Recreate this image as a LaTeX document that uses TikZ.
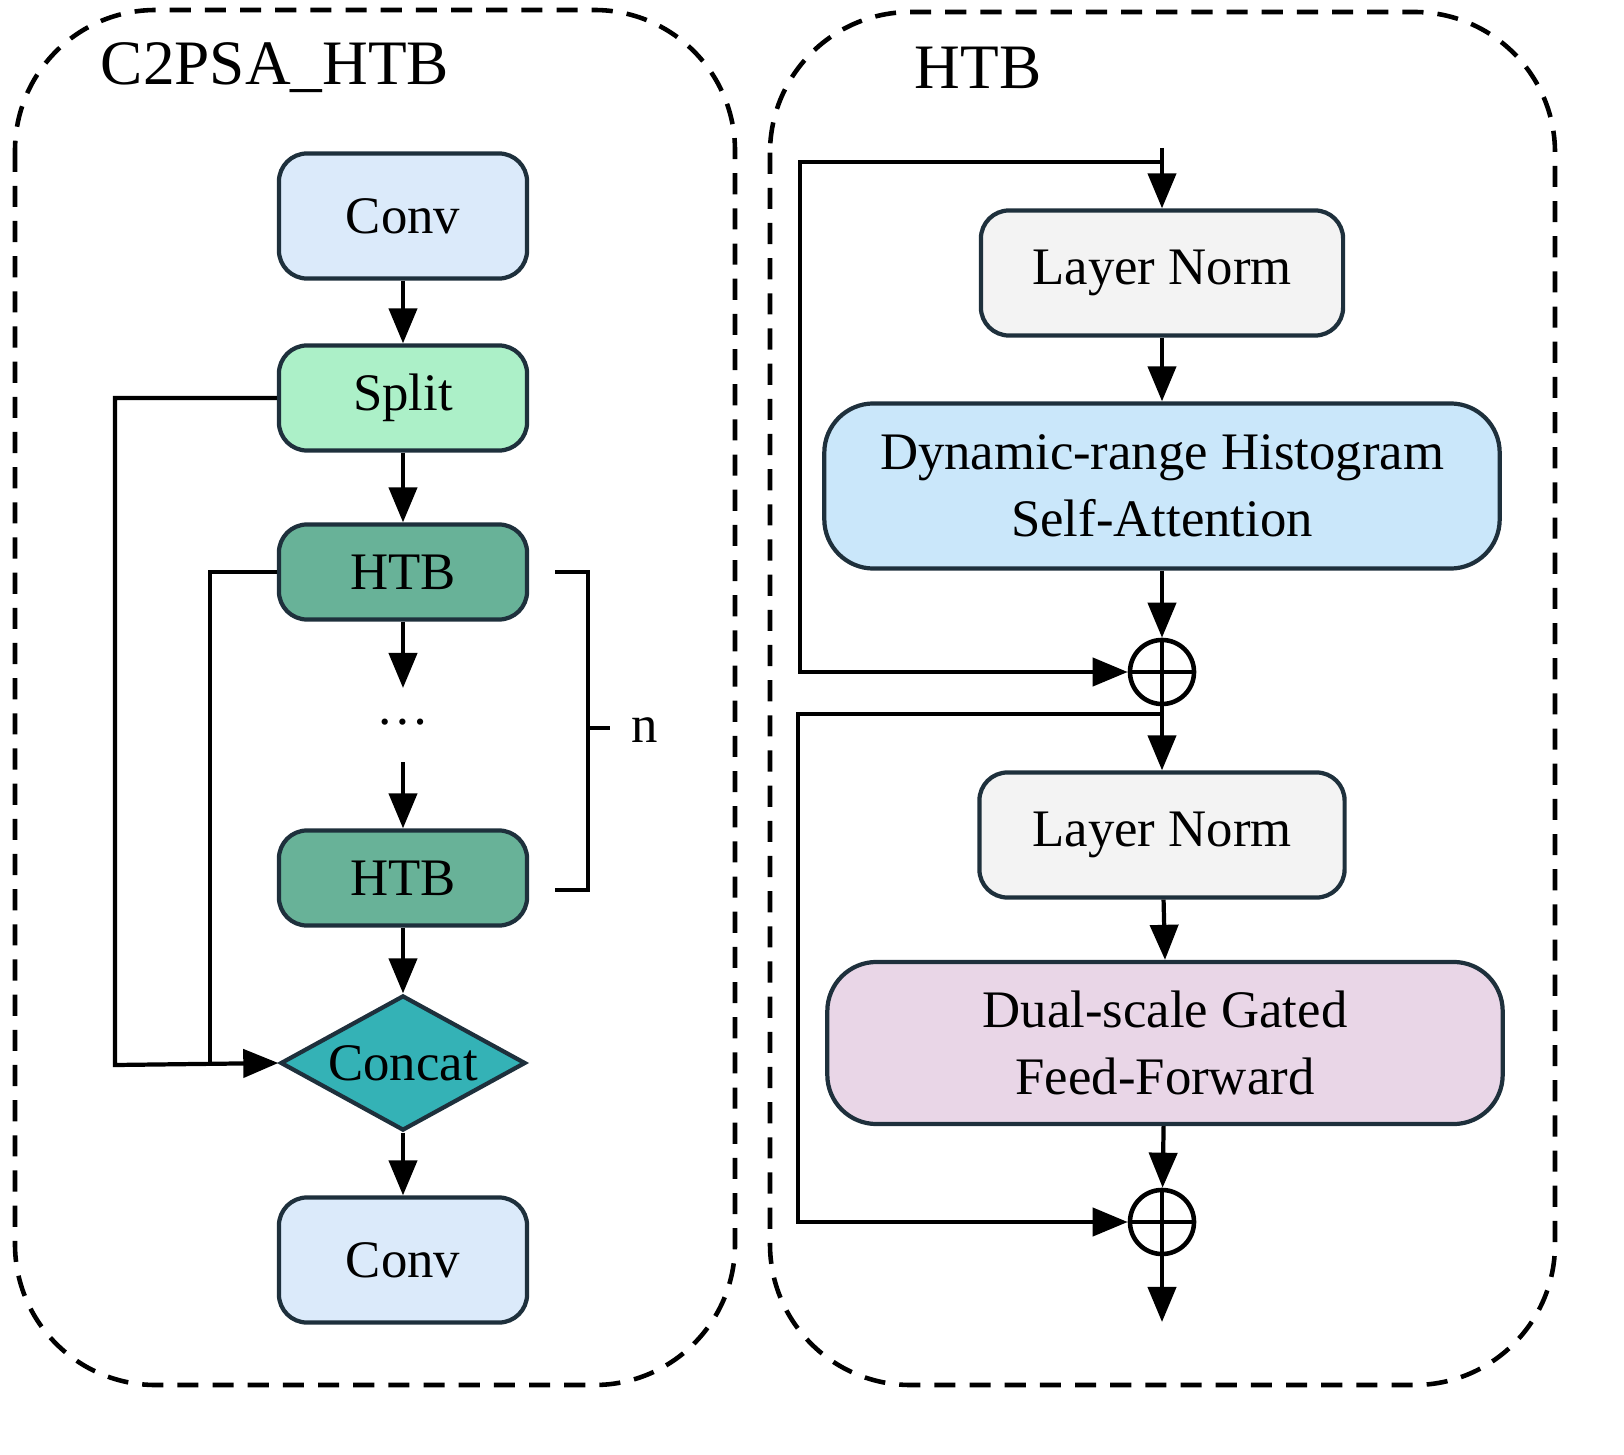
\documentclass[tikz,border=0pt]{standalone}
\usepackage{fontspec}
\setmainfont{Liberation Serif}
\usetikzlibrary{shapes.geometric, arrows.meta, positioning}

\definecolor{convblue}{RGB}{219,234,250}
\definecolor{splitgreen}{RGB}{172,240,200}
\definecolor{htbgreen}{RGB}{104,178,152}
\definecolor{concatteal}{RGB}{52,178,182}
\definecolor{normgray}{RGB}{243,243,243}
\definecolor{attnblue}{RGB}{202,231,250}
\definecolor{ffnpink}{RGB}{233,214,231}
\definecolor{edge}{RGB}{30,48,60}

\begin{document}
\begin{tikzpicture}[x=0.01cm, y=-0.01cm,
    box/.style={rectangle, draw=edge, line width=1.2pt, rounded corners=8pt, align=center, font=\fontsize{15}{19}\selectfont},
    panel/.style={draw, dash pattern=on 6pt off 4pt, line width=1.3pt, rounded corners=40pt},
    arrow/.style={-{Triangle[length=3.5mm, width=2.8mm]}, line width=1.2pt},
    line/.style={line width=1.2pt},
    title/.style={font=\fontsize{18}{22}\selectfont}]

    \useasboundingbox (0,0) rectangle (1624,1455);

    % panels
    \draw[panel] (15,10) rectangle (735,1385);
    \draw[panel] (770,12) rectangle (1555,1385);
    \node[title] (tleft) at (275,68) {C2PSA\_HTB};
    \node[title] (tright) at (978,68) {HTB};

    % left column
    \node[box, fill=convblue, minimum width=2.48cm, minimum height=1.25cm] (conv1) at (403,216) {Conv};
    \node[box, fill=splitgreen, minimum width=2.48cm, minimum height=1.05cm] (split) at (403,398) {Split};
    \node[box, fill=htbgreen, minimum width=2.48cm, minimum height=0.95cm] (htb1) at (403,572) {HTB};
    \node[font=\fontsize{15}{19}\selectfont, inner sep=1pt] (dots) at (403,722) {\dots};
    \node[box, fill=htbgreen, minimum width=2.48cm, minimum height=0.95cm] (htb2) at (403,878) {HTB};
    \node[diamond, draw=edge, line width=1.2pt, fill=concatteal, aspect=1.8, minimum width=2.45cm, minimum height=1.35cm, inner sep=0pt, font=\fontsize{15}{19}\selectfont] (concat) at (403,1063) {Concat};
    \node[box, fill=convblue, minimum width=2.48cm, minimum height=1.25cm] (conv2) at (403,1260) {Conv};

    \coordinate (dtop) at (403,688);
    \coordinate (dbot) at (403,762);
    \draw[arrow] (conv1) -- (split);
    \draw[arrow] (split) -- (htb1);
    \draw[arrow] (htb1) -- (dtop);
    \draw[arrow] (dbot) -- (htb2);
    \draw[arrow] (htb2) -- (concat);
    \draw[arrow] (concat) -- (conv2);
    \draw[arrow] (split.west) -| (115,1065) -- (concat.west);
    \draw[line] (htb1.west) -| (210,1065);

    % repeat brace
    \draw[line] (555,572) -- (588,572) -- (588,890) -- (555,890);
    \draw[line] (588,728) -- (610,728);
    \node[font=\fontsize{15}{19}\selectfont] (nlab) at (645,730) {n};

    % right column
    \node[box, fill=normgray, minimum width=3.62cm, minimum height=1.25cm] (ln1) at (1162,273) {Layer Norm};
    \node[box, fill=attnblue, minimum width=6.75cm, minimum height=1.65cm, rounded corners=14pt] (dhsa) at (1162,486) {Dynamic-range Histogram\\Self-Attention};
    \node[circle, draw, line width=1.3pt, minimum size=0.64cm, inner sep=0pt] (add1) at (1162,672) {};
    \node[box, fill=normgray, minimum width=3.65cm, minimum height=1.25cm] (ln2) at (1162,835) {Layer Norm};
    \node[box, fill=ffnpink, minimum width=6.75cm, minimum height=1.62cm, rounded corners=14pt] (dgff) at (1165,1043) {Dual-scale Gated\\Feed-Forward};
    \node[circle, draw, line width=1.3pt, minimum size=0.64cm, inner sep=0pt] (add2) at (1162,1222) {};
    \foreach \p in {add1, add2} {
        \draw[line] (\p.north) -- (\p.south);
        \draw[line] (\p.west) -- (\p.east);
    }

    \coordinate (in) at (1162,148);
    \coordinate (out) at (1162,1322);
    \draw[arrow] (in) -- (ln1);
    \draw[arrow] (1162,162) -- (800,162) |- (add1.west);
    \draw[arrow] (ln1) -- (dhsa.north);
    \draw[arrow] (dhsa) -- (add1);
    \draw[arrow] (add1) -- (ln2);
    \draw[arrow] (1162,714) -- (798,714) |- (add2.west);
    \draw[arrow] (ln2) -- (dgff.north);
    \draw[arrow] (dgff) -- (add2);
    \draw[arrow] (add2) -- (out);
\end{tikzpicture}
\end{document}
